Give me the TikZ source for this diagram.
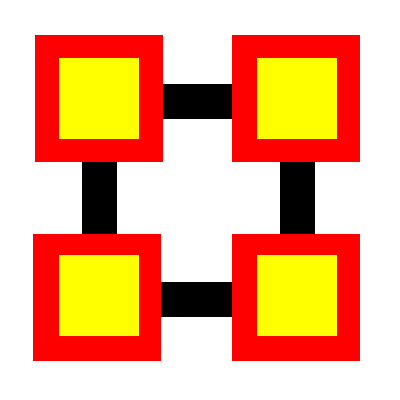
\documentclass[tikz,border=0pt]{standalone}
\usetikzlibrary{backgrounds}
\definecolor{boxred}{RGB}{255,0,0}
\definecolor{boxyellow}{RGB}{255,255,0}
\definecolor{barblack}{RGB}{0,0,0}
\begin{document}
\begin{tikzpicture}[x=1pt,y=-1pt,
  outerbox/.style={fill=boxred,inner sep=0pt,outer sep=0pt,minimum width=128pt,minimum height=127pt},
  innerbox/.style={fill=boxyellow,inner sep=0pt,outer sep=0pt,minimum width=80pt,minimum height=81pt},
  bar/.style={draw=barblack,line width=34.7pt}]
\useasboundingbox (0,0) rectangle (400,400);
\node[outerbox] (tl) at (99,98.4) {};
\node[outerbox] (tr) at (296,98.5) {};
\node[outerbox] (bl) at (97,297.4) {};
\node[outerbox] (br) at (296,297.5) {};
\node[innerbox] (tli) at (99,98.4) {};
\node[innerbox] (tri) at (297,98.5) {};
\node[innerbox] (bli) at (99,295.4) {};
\node[innerbox] (bri) at (297,295.5) {};
\begin{scope}[on background layer]
\draw[bar] (tl.center|-0,101.3) -- (tr.center|-0,101.3);
\draw[bar] (bl.center|-0,299.3) -- (br.center|-0,299.3);
\draw[bar] (tl.center-|99.3,0) -- (bl.center-|99.3,0);
\draw[bar] (tr.center-|297.3,0) -- (br.center-|297.3,0);
\end{scope}
\end{tikzpicture}
\end{document}
